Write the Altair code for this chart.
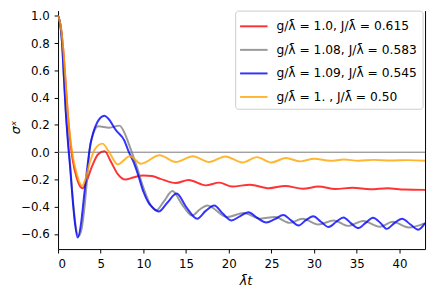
import altair as alt
import pandas as pd

labels = [
    "g/λ̄ = 1.0, J/λ̄ = 0.615",
    "g/λ̄ = 1.08, J/λ̄ = 0.583",
    "g/λ̄ = 1.09, J/λ̄ = 0.545",
    "g/λ̄ = 1. , J/λ̄ = 0.50",
]
colors = ["#ff0000", "#808080", "#0000ff", "#ffa500"]

t_red = [0, 0.3, 0.6, 0.9, 1.12, 1.4, 1.7, 2.2, 2.5, 2.88, 3.3, 4.0, 4.7, 5.45, 6.2, 7.0,
         7.9, 8.8, 10.0, 11.0, 12.0, 13.8, 15.3, 17.3, 18.9, 20.4, 22.5, 24.7, 26.6, 28.7,
         30.5, 32.5, 34.5, 36.6, 38.6, 40.6, 43.0]
v_red = [1.0, 0.93, 0.76, 0.5, 0.30, 0.1, -0.05, -0.19, -0.24, -0.264, -0.22, -0.1, -0.015,
         0.008, -0.07, -0.16, -0.2, -0.185, -0.17, -0.175, -0.195, -0.226, -0.204, -0.243,
         -0.223, -0.252, -0.238, -0.264, -0.247, -0.268, -0.252, -0.27, -0.26, -0.272,
         -0.264, -0.274, -0.276]

t_gray = [0, 0.25, 0.46, 0.66, 0.9, 1.15, 1.4, 1.8, 2.0, 2.4, 2.8, 3.1, 3.4, 3.7, 4.1, 4.7,
          6.0, 7.2, 7.8, 8.3, 8.7, 9.3, 10.0, 10.7, 11.5, 12.4, 13.4, 14.5, 15.7, 16.6, 17.5,
          19.8, 21.75, 23.7, 25.4, 27.1, 28.65, 30.5, 32.3, 34.0, 35.75, 37.7, 39.2, 41.1, 43.0]
v_gray = [1.0, 0.94, 0.81, 0.58, 0.31, 0.1, -0.08, -0.39, -0.51, -0.615, -0.55, -0.4, -0.2,
          0.02, 0.13, 0.19, 0.18, 0.195, 0.14, 0.06, -0.01, -0.12, -0.26, -0.37, -0.427,
          -0.36, -0.285, -0.38, -0.465, -0.42, -0.39, -0.475, -0.446, -0.487, -0.475, -0.518,
          -0.487, -0.53, -0.5, -0.54, -0.504, -0.547, -0.51, -0.552, -0.52]

t_blue = [0, 0.25, 0.46, 0.66, 0.9, 1.15, 1.4, 1.8, 2.0, 2.3, 2.7, 3.0, 3.3, 3.8, 4.1, 4.6,
          5.0, 5.45, 5.9, 6.8, 7.75, 8.3, 8.9, 9.4, 10.0, 10.6, 11.0, 11.8, 12.8, 13.9, 15.0,
          16.3, 17.3, 18.3, 19.3, 20.3, 21.3, 22.3, 23.3, 24.4, 25.4, 26.4, 27.3, 28.2, 29.0,
          29.9, 30.8, 31.7, 32.6, 33.45, 34.3, 35.2, 36.0, 36.9, 37.8, 38.5, 39.4, 40.3, 41.3,
          42.2, 43.0]
v_blue = [1.0, 0.94, 0.81, 0.58, 0.30, 0.08, -0.1, -0.41, -0.53, -0.626, -0.52, -0.35, -0.18,
          0.06, 0.14, 0.22, 0.255, 0.268, 0.245, 0.16, 0.088, 0.0, -0.08, -0.17, -0.29, -0.37,
          -0.40, -0.434, -0.37, -0.303, -0.40, -0.487, -0.43, -0.39, -0.45, -0.50, -0.47,
          -0.44, -0.48, -0.515, -0.49, -0.46, -0.50, -0.537, -0.50, -0.47, -0.51, -0.548,
          -0.51, -0.478, -0.52, -0.556, -0.52, -0.48, -0.52, -0.562, -0.52, -0.487, -0.53,
          -0.568, -0.52]

t_orange = [0, 0.3, 0.6, 0.9, 1.12, 1.4, 1.7, 2.2, 2.5, 2.8, 3.2, 3.7, 4.3, 5.2, 6.0, 7.0,
            7.7, 8.4, 9.7, 11.9, 13.8, 15.8, 17.7, 19.6, 21.6, 23.3, 25.0, 26.7, 28.4, 30.0,
            31.9, 33.5, 35.2, 37.0, 39.0, 41.0, 43.0]
v_orange = [1.0, 0.93, 0.76, 0.5, 0.30, 0.12, -0.02, -0.16, -0.22, -0.247, -0.2, -0.08, 0.02,
            0.063, 0.0, -0.09, -0.06, -0.027, -0.084, -0.022, -0.072, -0.029, -0.072, -0.031,
            -0.075, -0.036, -0.075, -0.043, -0.067, -0.048, -0.063, -0.054, -0.062, -0.056,
            -0.061, -0.058, -0.062]

x_ticks = [0, 5, 10, 15, 20, 25, 30, 35, 40]
y_ticks = [-0.6, -0.4, -0.2, 0.0, 0.2, 0.4, 0.6, 0.8, 1.0]

series = [(t_red, v_red), (t_gray, v_gray), (t_blue, v_blue), (t_orange, v_orange)]
frames = []
for lab, (ts, vs) in zip(labels, series):
    frames.append(pd.DataFrame({"t": ts, "v": vs, "series": lab}))

W, H = 374, 243
x_dom = [0, 43]
y_dom = [-0.71, 1.038]

xscale = alt.Scale(domain=x_dom, nice=False, zero=False)
yscale = alt.Scale(domain=y_dom, nice=False, zero=False)
cscale = alt.Scale(domain=labels, range=colors)

x_axis = alt.Axis(values=x_ticks, format="d", title="λ̄t", grid=False,
                  titleX=191, titleY=32, titleBaseline="middle", titleAlign="center",
                  titleFontStyle="italic", titleFontSize=13, titleFontWeight="normal",
                  labelPadding=6)
y_axis = alt.Axis(values=y_ticks, format=".1f", title="σˣ", grid=False,
                  titleX=-43, titleY=118.5, titleAngle=-90, titleBaseline="middle",
                  titleAlign="center", titleFontStyle="italic", titleFontSize=13,
                  titleFontWeight="normal", labelPadding=5)

legend = alt.Legend(title=None, orient="none", legendX=180.5, legendY=0,
                    symbolType="M-1.4,0H1.4", symbolSize=400, symbolStrokeWidth=2,
                    symbolOpacity=0.8, labelFontSize=12.5, labelFont="DejaVu Sans",
                    labelLimit=300, labelOffset=12, rowPadding=6, padding=5,
                    strokeColor="#cccccc", fillColor="rgba(255,255,255,0.8)",
                    cornerRadius=3, symbolOffset=3)

layers = []
for i, f in enumerate(frames):
    layers.append(
        alt.Chart(f).mark_line(strokeWidth=2, strokeOpacity=0.8, interpolate="monotone",
                               clip=True)
        .encode(
            x=alt.X("t:Q", scale=xscale, axis=x_axis),
            y=alt.Y("v:Q", scale=yscale, axis=y_axis),
            color=alt.Color("series:N", scale=cscale, legend=legend),
        )
    )
lines = alt.layer(*layers)

zero_rule = alt.Chart(pd.DataFrame({"z": [0.0]})).mark_rule(color="#777777", strokeWidth=1).encode(
    y=alt.Y("z:Q", scale=yscale,
            axis=alt.Axis(orient="right", labels=False, ticks=False, title=None, grid=False,
                          domainColor="black"))
)

chart = (
    alt.layer(zero_rule, lines)
    .resolve_scale(y="independent")
    .properties(width=W, height=H,
                autosize=alt.AutoSizeParams(type="none"),
                padding={"left": 51, "top": 0, "right": 3, "bottom": 37})
    .configure_view(stroke=None)
    .configure_axis(labelFont="DejaVu Sans", labelFontSize=12, labelColor="black",
                    titleFont="DejaVu Sans", titleColor="black", tickColor="black",
                    tickSize=4, tickWidth=1, domainColor="black", domainWidth=1)
)

chart.save("out.html", embed_options={"renderer": "svg", "actions": False})
